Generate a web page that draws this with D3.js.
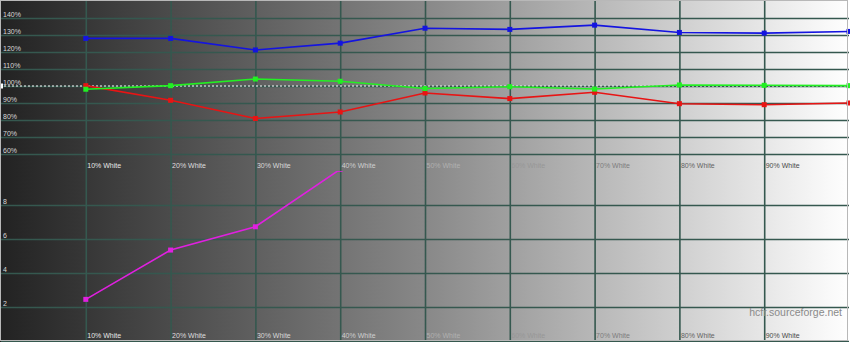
<!DOCTYPE html>
<html>
<head>
<meta charset="utf-8">
<script src="https://cdn.jsdelivr.net/npm/d3@7"></script>
<style>
  body { margin: 0; background: #fff; }
  svg { display: block; font-family: "Liberation Sans", Arial, sans-serif; }
</style>
</head>
<body>
<script>
// levels along the x axis (% white)
const levels = [10, 20, 30, 40, 50, 60, 70, 80, 90, 100];
const levelLabels = ["10% White", "20% White", "30% White", "40% White", "50% White",
                     "60% White", "70% White", "80% White", "90% White"];

// RGB balance, percent
const red   = [100.2, 91.6, 80.9, 84.7, 95.9, 92.6, 96.3, 89.6, 89.0, 90.0];
const green = [98.1, 100.2, 104.1, 102.8, 98.5, 99.6, 98.2, 100.6, 100.4, 100.2];
const blue  = [128.0, 128.0, 121.2, 125.2, 134.0, 133.3, 135.8, 131.5, 131.1, 132.1];

// delta E, only the first levels
const deltaLevels = [10, 20, 30, 40];
const deltaE = [2.45, 5.35, 6.72, 10.1];

const topTicks = [60, 70, 80, 90, 100, 110, 120, 130, 140];
const bottomTicks = [2, 4, 6, 8];

const width = 850, height = 342;

const svg = d3.select("body").append("svg")
  .attr("width", width)
  .attr("height", height);

const x = d3.scaleLinear().domain([0, 100]).range([1, 849]);
const yTop = d3.scaleLinear().domain([50, 150]).range([171, 1]);
const yBot = d3.scaleLinear().domain([0, 10]).range([341, 171]);

// background gradient dark -> white
const defs = svg.append("defs");
const grad = defs.append("linearGradient").attr("id", "bg").attr("x1", 0).attr("x2", 1).attr("y1", 0).attr("y2", 0);
grad.append("stop").attr("offset", 0).attr("stop-color", "#222222");
grad.append("stop").attr("offset", 0.5).attr("stop-color", "#888888");
grad.append("stop").attr("offset", 1).attr("stop-color", "#ffffff");

defs.append("clipPath").attr("id", "clipTop")
  .append("rect").attr("x", 0).attr("y", 1).attr("width", width).attr("height", 170);
defs.append("clipPath").attr("id", "clipBot")
  .append("rect").attr("x", 0).attr("y", 171).attr("width", width).attr("height", 170);

svg.append("rect").attr("width", width).attr("height", height).attr("fill", "url(#bg)");

const gridColor = "#35584f";

// horizontal grid, top panel
svg.append("g")
  .attr("transform", `translate(${x(0)},0)`)
  .call(d3.axisLeft(yTop).tickValues(topTicks).tickSize(-(x(100) - x(0))).tickFormat(""))
  .call(g => g.select(".domain").remove())
  .call(g => g.selectAll("line").attr("stroke", gridColor).attr("stroke-width", 1.3));

// horizontal grid, bottom panel
svg.append("g")
  .attr("transform", `translate(${x(0)},0)`)
  .call(d3.axisLeft(yBot).tickValues(bottomTicks.concat([0])).tickSize(-(x(100) - x(0))).tickFormat(""))
  .call(g => g.select(".domain").remove())
  .call(g => g.selectAll("line").attr("stroke", gridColor).attr("stroke-width", 1.3));

// vertical grid (both panels)
svg.append("g")
  .attr("transform", `translate(0,${height})`)
  .call(d3.axisBottom(x).tickValues(levels.slice(0, 9)).tickSize(-height).tickFormat(""))
  .call(g => g.select(".domain").remove())
  .call(g => g.selectAll("line").attr("stroke", gridColor).attr("stroke-width", 1.6));

// 100% reference line
svg.append("line")
  .attr("x1", 0).attr("x2", x(100))
  .attr("y1", yTop(100)).attr("y2", yTop(100))
  .attr("stroke", "#ffffff").attr("stroke-width", 1)
  .attr("stroke-dasharray", "2,2");
svg.append("rect").attr("x", 0).attr("y", yTop(100) - 2.5).attr("width", 3).attr("height", 5).attr("fill", "#ffffff");

// y labels
svg.append("g").selectAll("text")
  .data(topTicks)
  .join("text")
  .attr("x", 3)
  .attr("y", d => yTop(d) - 1.5)
  .attr("font-size", 7)
  .attr("fill", "#d8d8d8")
  .text(d => d + "%");

svg.append("g").selectAll("text")
  .data(bottomTicks)
  .join("text")
  .attr("x", 3)
  .attr("y", d => yBot(d) - 1.5)
  .attr("font-size", 7)
  .attr("fill", "#d8d8d8")
  .text(d => d);

// x labels in both panels
const labelColor = d3.scaleLinear().domain([10, 40, 50, 90])
  .range(["#e6e6e6", "#cfcfcf", "#b0b0b0", "#4a4a4a"]);
[yTop(50) - 3, yBot(0) - 3].forEach(yy => {
  svg.append("g").selectAll("text")
    .data(levelLabels)
    .join("text")
    .attr("x", (d, i) => x(levels[i]) + 1.5)
    .attr("y", yy)
    .attr("font-size", 7)
    .attr("fill", (d, i) => labelColor(levels[i]))
    .text(d => d);
});

// series, top panel
const series = [
  { name: "red", values: red, color: "#e81414" },
  { name: "green", values: green, color: "#22f022" },
  { name: "blue", values: blue, color: "#1414e0" }
];

const lineTop = d3.line().x(d => x(d[0])).y(d => yTop(d[1]));
const gTop = svg.append("g").attr("clip-path", "url(#clipTop)");

series.forEach(s => {
  const pts = levels.map((l, i) => [l, s.values[i]]);
  gTop.append("path")
    .datum(pts)
    .attr("fill", "none")
    .attr("stroke", s.color)
    .attr("stroke-width", 1.6)
    .attr("d", lineTop);
  gTop.append("g").selectAll("rect")
    .data(pts)
    .join("rect")
    .attr("x", d => x(d[0]) - 2.5)
    .attr("y", d => yTop(d[1]) - 2.5)
    .attr("width", 5)
    .attr("height", 5)
    .attr("fill", s.color);
});

// delta E, bottom panel
const lineBot = d3.line().x(d => x(d[0])).y(d => yBot(d[1]));
const gBot = svg.append("g").attr("clip-path", "url(#clipBot)");
const dPts = deltaLevels.map((l, i) => [l, deltaE[i]]);
gBot.append("path")
  .datum(dPts)
  .attr("fill", "none")
  .attr("stroke", "#e020e0")
  .attr("stroke-width", 1.6)
  .attr("d", lineBot);
gBot.append("g").selectAll("rect")
  .data(dPts)
  .join("rect")
  .attr("x", d => x(d[0]) - 2.5)
  .attr("y", d => yBot(d[1]) - 2.5)
  .attr("width", 5)
  .attr("height", 5)
  .attr("fill", "#e020e0");

// frame
svg.append("rect")
  .attr("x", 0.5).attr("y", 0.5)
  .attr("width", width - 3).attr("height", height - 2)
  .attr("fill", "none")
  .attr("stroke", "#b8b8b8")
  .attr("stroke-width", 1);

// watermark
svg.append("text")
  .attr("x", 842)
  .attr("y", 316)
  .attr("text-anchor", "end")
  .attr("font-size", 10.5)
  .attr("fill", "#8a8a8a")
  .text("hcfr.sourceforge.net");
</script>
</body>
</html>
